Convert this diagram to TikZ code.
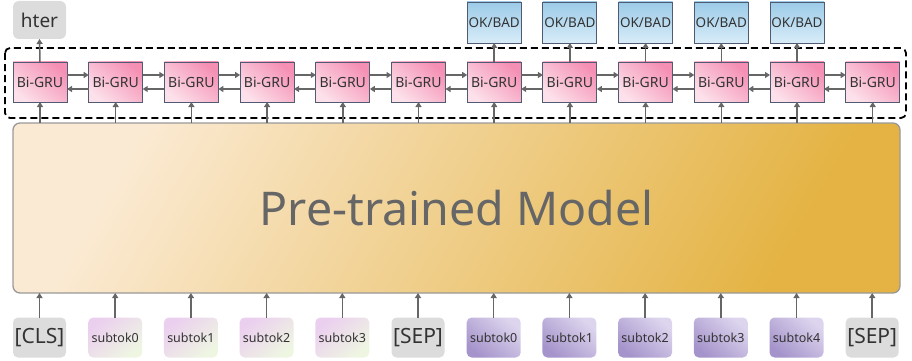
\documentclass[tikz,border=0pt]{standalone}
\usepackage{fontspec}
\setmainfont{Noto Sans}
\usetikzlibrary{arrows.meta,calc}
\definecolor{pinkD}{HTML}{F590B4}
\definecolor{pinkL}{HTML}{FCE0EA}
\definecolor{blueD}{HTML}{9CCBE8}
\definecolor{blueL}{HTML}{D8ECF8}
\definecolor{goldD}{HTML}{E4B343}
\definecolor{goldL}{HTML}{FBEAD3}
\definecolor{grayT}{HTML}{DCDCDC}
\definecolor{lilac}{HTML}{EBCFEF}
\definecolor{mint}{HTML}{EEF6E2}
\definecolor{purD}{HTML}{A594CB}
\definecolor{purL}{HTML}{DDD5EE}
\definecolor{edge}{HTML}{4F5B73}
\definecolor{arr}{HTML}{666666}
\definecolor{txt}{HTML}{333333}
\definecolor{modeltxt}{HTML}{666666}
\begin{document}
\begin{tikzpicture}[x=1pt,y=-1pt,
  every node/.style={inner sep=0pt, outer sep=0pt, text=txt},
  grubox/.style={draw=edge, line width=0.9pt, minimum width=54pt, minimum height=40pt,
    top color=pinkD, bottom color=pinkL, shading angle=-40, font=\fontsize{14}{16}\selectfont},
  okbox/.style={draw=edge, line width=0.9pt, minimum width=54pt, minimum height=41pt,
    top color=blueD, bottom color=blueL, font=\fontsize{13.5}{16}\selectfont},
  graytok/.style={fill=grayT, rounded corners=5pt, minimum width=53pt, minimum height=40pt,
    font=\fontsize{21}{24}\selectfont},
  lighttok/.style={rounded corners=5pt, minimum width=54pt, minimum height=40pt,
    top color=lilac, bottom color=mint, shading angle=40, font=\fontsize{12.5}{15}\selectfont},
  darktok/.style={rounded corners=5pt, minimum width=54pt, minimum height=40pt,
    top color=purL, bottom color=purD, shading angle=-40, font=\fontsize{12.5}{15}\selectfont},
  modelbox/.style={draw=gray!80, line width=1.3pt, rounded corners=7pt,
    minimum width=887pt, minimum height=170pt, top color=goldL, bottom color=goldD,
    shading angle=60, text=modeltxt, font=\fontsize{46.5}{50}\selectfont},
  arrow/.style={draw=arr, line width=1.5pt, -{Triangle[length=5pt,width=6pt]}},
  dashbox/.style={draw=black, line width=1.8pt, dash pattern=on 7pt off 4pt, rounded corners=5pt}
]
\useasboundingbox (0,0) rectangle (912,361);

% dashed container
\draw[dashbox] (5,48) rectangle (906,118);

% model
\node[modelbox] (model) at (456.5,208) {Pre-trained Model};

% Bi-GRU row
\foreach \i in {0,...,11} {
  \node[grubox] (g\i) at ({40+75.7*\i},82) {Bi-GRU};
}
% horizontal arrows
\foreach \i [evaluate=\i as \j using int(\i+1)] in {0,...,10} {
  \draw[arrow] ($(g\i.east)+(0,-7)$) -- ($(g\j.west)+(0,-7)$);
  \draw[arrow] ($(g\j.west)+(0,7)$) -- ($(g\i.east)+(0,7)$);
}
% model -> Bi-GRU
\foreach \i in {0,...,11} {
  \draw[arrow] (g\i.south |- model.north) -- (g\i.south);
}

% hter
\node[fill=grayT, rounded corners=6pt, minimum width=53pt, minimum height=38pt,
  font=\fontsize{19}{22}\selectfont] (hter) at (39.5,20) {hter};
\draw[arrow] (g0.north) -- (hter.south);

% OK/BAD
\foreach \i in {6,...,10} {
  \node[okbox] (o\i) at ({40+75.7*\i},22.5) {OK/BAD};
  \draw[arrow] (g\i.north) -- (o\i.south);
}

% tokens
\node[graytok] (t0) at (39.5,337.5) {[CLS]};
\foreach \i/\n in {1/0,2/1,3/2,4/3} {
  \node[lighttok] (t\i) at ({39.5+75.7*\i},337.5) {subtok\n};
}
\node[graytok] (t5) at ({39.5+75.7*5},337.5) {[SEP]};
\foreach \i/\n in {6/0,7/1,8/2,9/3,10/4} {
  \node[darktok] (t\i) at ({39.5+75.7*\i},337.5) {subtok\n};
}
\node[graytok] (t11) at ({39.5+75.7*11},337.5) {[SEP]};
\foreach \i in {0,...,11} {
  \draw[arrow] (t\i.north) -- (t\i.north |- model.south);
}
\end{tikzpicture}
\end{document}
